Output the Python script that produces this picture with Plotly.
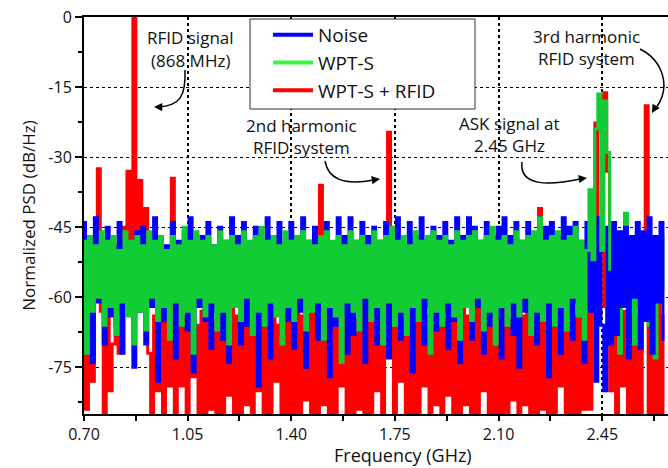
import numpy as np
import plotly.graph_objects as go

# ---------------- data ----------------
freq_start_ghz = 0.70
freq_step_ghz = 0.01
n_points = 197
freq_ghz = np.round(freq_start_ghz + freq_step_ghz * np.arange(n_points), 2)

noise_db = [
    -44, -68, -47, -74, -43, -61, -49, -70, -45, -64,   # 0.70
    -49, -66, -44, -72, -48, -60, -50, -75, -46, -63,   # 0.80
    -45, -70, -49, -62, -43, -78, -47, -65, -49, -61,   # 0.90
    -44, -73, -48, -60, -46, -67, -43, -76, -49, -62,   # 1.00
    -47, -65, -44, -71, -49, -63, -45, -69, -48, -74,   # 1.10
    -43, -61, -47, -70, -44, -66, -49, -62, -45, -79,   # 1.20
    -48, -64, -43, -73, -47, -61, -44, -68, -49, -65,   # 1.30
    -44, -71, -47, -63, -43, -75, -48, -60, -45, -69,   # 1.40
    -47, -62, -44, -77, -49, -66, -43, -64, -47, -72,   # 1.50
    -43, -68, -48, -61, -44, -74, -47, -63, -45, -70,   # 1.60
    -48, -65, -44, -73, -47, -62, -43, -69, -49, -61,   # 1.70
    -44, -76, -47, -64, -43, -70, -48, -62, -45, -67,   # 1.80
    -47, -63, -44, -71, -48, -65, -43, -74, -47, -60,   # 1.90
    -43, -69, -45, -62, -48, -72, -44, -66, -47, -64,   # 2.00
    -45, -73, -43, -61, -47, -68, -44, -75, -48, -63,   # 2.10
    -44, -65, -47, -70, -43, -62, -45, -77, -44, -66,   # 2.20
    -47, -72, -43, -64, -45, -69, -44, -61, -48, -74,   # 2.30
    -44, -63, -46, -78, -43, -66, -80, -45, -70, -44,   # 2.40
    -68, -46, -62, -45, -73, -47, -60, -44, -71, -46,   # 2.50
    -65, -43, -72, -47, -61, -44, -69,                  # 2.60
]

wpt_s_db = [
    -48, -72, -47, -63, -49, -60, -46, -66, -48, -62,   # 0.70
    -47, -68, -50, -61, -46, -64, -48, -70, -47, -63,   # 0.80
    -49, -67, -46, -60, -48, -65, -47, -62, -50, -69,   # 0.90
    -47, -61, -49, -66, -45, -63, -48, -72, -46, -60,   # 1.00
    -48, -64, -47, -61, -49, -67, -46, -63, -48, -70,   # 1.10
    -47, -62, -49, -65, -46, -60, -48, -68, -47, -63,   # 1.20
    -45, -66, -48, -61, -47, -64, -49, -70, -46, -62,   # 1.30
    -48, -65, -47, -60, -46, -67, -48, -63, -49, -61,   # 1.40
    -47, -69, -46, -62, -48, -64, -47, -74, -49, -61,   # 1.50
    -46, -63, -48, -67, -47, -60, -49, -65, -46, -62,   # 1.60
    -48, -70, -47, -61, -45, -66, -48, -63, -47, -68,   # 1.70
    -49, -62, -46, -65, -48, -60, -47, -72, -46, -63,   # 1.80
    -48, -66, -47, -61, -49, -64, -46, -69, -48, -62,   # 1.90
    -47, -65, -46, -60, -48, -67, -47, -63, -45, -70,   # 2.00
    -48, -62, -47, -66, -49, -61, -46, -64, -48, -60,   # 2.10
    -47, -68, -46, -63, -43, -65, -48, -61, -47, -66,   # 2.20
    -46, -62, -48, -67, -47, -60, -45, -64, -48, -69,   # 2.30
    -50, -37, -52, -24, -16.5, -50, -18, -29, -54, -68, # 2.40
    -58, -72, -50, -42, -64, -49, -70, -46, -62, -51,   # 2.50
    -48, -66, -50, -73, -52, -47, -58,                  # 2.60
]

wpt_s_rfid_db = [
    -62, -84, -66, -78, -60, -32.5, -63, -86, -64, -80,   # 0.70
    -70, -62, -72, -45, -60, -33, -50, 0, -50, -35,       # 0.80
    -58, -41, -72, -88, -64, -80, -60, -88, -65, -79,     # 0.90
    -34.5, -87, -61, -79, -64, -89, -60, -77, -66, -88,   # 1.00
    -63, -86, -59, -84, -65, -90, -61, -88, -62, -81,     # 1.10
    -60, -86, -64, -89, -58, -83, -63, -88, -61, -80,     # 1.20
    -65, -89, -60, -85, -62, -78, -66, -88, -59, -86,     # 1.30
    -63, -87, -61, -90, -64, -82, -60, -86, -62, -88,     # 1.40
    -36, -83, -63, -88, -59, -86, -64, -79, -61, -89,     # 1.50
    -62, -87, -65, -84, -60, -88, -63, -89, -58, -80,     # 1.60
    -64, -86, -61, -24.7, -63, -88, -60, -78, -65, -87,   # 1.70
    -61, -88, -63, -87, -59, -79, -64, -88, -62, -83,     # 1.80
    -60, -88, -65, -81, -61, -89, -63, -86, -60, -83,     # 1.90
    -64, -89, -62, -86, -58, -80, -63, -88, -61, -89,     # 2.00
    -62, -85, -60, -87, -65, -82, -61, -88, -64, -83,     # 2.10
    -59, -88, -63, -86, -41, -84, -62, -88, -60, -86,     # 2.20
    -63, -79, -61, -88, -60, -86, -64, -88, -62, -84,     # 2.30
    -61, -84, -60, -22.7, -64, -62, -16.2, -33, -80, -61, # 2.40
    -86, -60, -79, -63, -88, -61, -85, -64, -88, -60,     # 2.50
    -19, -87, -62, -88, -60, -86, -64,                    # 2.60
]

series_names = ["Noise", "WPT-S", "WPT-S + RFID"]
x_tick_vals = [0.70, 1.05, 1.40, 1.75, 2.10, 2.45]
x_tick_text = ["0.70", "1.05", "1.40", "1.75", "2.10", "2.45"]
x_minor_vals = [0.875, 1.225, 1.575, 1.925, 2.275, 2.625]
y_tick_vals = [0, -15, -30, -45, -60, -75]
y_tick_text = ["0", "-15", "-30", "-45", "-60", "-75"]
y_minor_vals = [-7.5, -22.5, -37.5, -52.5, -67.5, -82.5]

# ---------------- styling / layout ----------------
W, H = 668, 468
PL, PR, PT, PB = 84, 668, 17, 414      # plot area in pixels
X_RANGE = [0.70, 2.672]
Y_RANGE = [-85, 0]
FONT = "Open Sans"
TXT = "#111111"

BLUE = "#0000ff"
GREEN_LINE = "#12cc36"
GREEN_LEG = "#3cf53c"
RED = "#ff0000"
LW = 3
# above this frequency the WPT-S trace lies behind the noise trace
GREEN_SPLIT_GHZ = 2.48


def gx(px):
    return X_RANGE[0] + (px - PL) / (PR - PL) * (X_RANGE[1] - X_RANGE[0])


def gy(py):
    return Y_RANGE[1] - (py - PT) / (PB - PT) * (Y_RANGE[1] - Y_RANGE[0])


freq_arr = np.asarray(freq_ghz)
wpt_arr = np.asarray(wpt_s_db, dtype=float)
front = freq_arr <= GREEN_SPLIT_GHZ + 1e-9
back = freq_arr >= GREEN_SPLIT_GHZ - 1e-9

fig = go.Figure()


def step_line(x, y, color, name):
    return go.Scatter(x=x, y=y, mode="lines", line_shape="hvh",
                      line=dict(color=color, width=LW), showlegend=False,
                      name=name, hoverinfo="skip")


fig.add_trace(step_line(freq_arr, wpt_s_rfid_db, RED, series_names[2]))
fig.add_trace(step_line(freq_arr[back], wpt_arr[back], GREEN_LINE, series_names[1]))
fig.add_trace(step_line(freq_arr, noise_db, BLUE, series_names[0]))
fig.add_trace(step_line(freq_arr[front], wpt_arr[front], GREEN_LINE, series_names[1]))

# legend entries
for name, col in zip(series_names, [BLUE, GREEN_LEG, RED]):
    fig.add_trace(go.Scatter(x=[None], y=[None], mode="lines",
                             line=dict(color=col, width=4), name=name))

shapes = []
# legend frame
shapes.append(dict(type="rect", xref="x", yref="y",
                   x0=gx(250), x1=gx(475), y0=gy(19), y1=gy(109),
                   fillcolor="white", line=dict(color="#333333", width=1),
                   layer="above"))


def curve(points):
    (x0, y0), (c1x, c1y), (c2x, c2y), (x1, y1) = points
    return (f"M {gx(x0)},{gy(y0)} C {gx(c1x)},{gy(c1y)} "
            f"{gx(c2x)},{gy(c2y)} {gx(x1)},{gy(y1)}")


arrow_curves = [
    [(185, 70), (186, 96), (180, 106), (158, 107)],
    [(325, 161), (328, 178), (342, 186), (374, 180)],
    [(522, 162), (519, 186), (548, 186), (580, 179)],
    [(640, 49), (662, 60), (672, 86), (656, 108)],
]
for pts in arrow_curves:
    shapes.append(dict(type="path", xref="x", yref="y", path=curve(pts),
                       line=dict(color="black", width=1.5), layer="above"))

annotations = []
heads = [((154, 107), (6, 0)), ((380, 179), (-7, 1)),
         ((587, 178), (-8, 1)), ((652, 113), (4, -7))]
for (tx, ty), (ax, ay) in heads:
    annotations.append(dict(x=gx(tx), y=gy(ty), xref="x", yref="y",
                            ax=ax, ay=ay, axref="pixel", ayref="pixel",
                            text="", showarrow=True, arrowhead=2,
                            arrowsize=1.1, arrowwidth=1.5, arrowcolor="black"))

labels = [
    ("RFID signal", 190, 37), ("(868 MHz)", 190, 60),
    ("2nd harmonic", 301, 125), ("RFID system", 301, 147),
    ("ASK signal at", 509, 123), ("2.45 GHz", 509, 145),
    ("3rd harmonic", 586, 36), ("RFID system", 586, 58),
]
for txt, px, py in labels:
    annotations.append(dict(x=gx(px), y=gy(py), xref="x", yref="y",
                            text=txt, showarrow=False,
                            xanchor="center", yanchor="middle",
                            font=dict(family=FONT, size=17, color=TXT)))

# x axis title (centred where the reference puts it)
annotations.append(dict(x=(403 - PL) / (PR - PL), y=-(455 - PB) / (PB - PT),
                        xref="paper", yref="paper",
                        text="Frequency (GHz)", showarrow=False,
                        xanchor="center", yanchor="middle",
                        font=dict(family=FONT, size=18, color=TXT)))

fig.update_layout(
    width=W, height=H,
    margin=dict(l=PL, r=W - PR, t=PT, b=H - PB),
    paper_bgcolor="white", plot_bgcolor="white",
    font=dict(family=FONT, size=16, color=TXT),
    shapes=shapes, annotations=annotations,
    legend=dict(x=(268 - PL) / (PR - PL), y=1 + (PT - 16) / (PB - PT),
                xanchor="left", yanchor="top",
                bgcolor="rgba(0,0,0,0)", borderwidth=0,
                font=dict(family=FONT, size=19, color=TXT),
                itemwidth=40, tracegroupgap=0),
)

fig.update_xaxes(
    range=X_RANGE, tickvals=x_tick_vals, ticktext=x_tick_text,
    ticks="outside", ticklen=5, tickwidth=2, tickcolor="black",
    showline=True, linewidth=2, linecolor="black", mirror=True,
    showgrid=True, gridcolor="black", griddash="dot", gridwidth=2,
    zeroline=False,
    minor=dict(tickvals=x_minor_vals, ticks="outside", ticklen=5,
               tickwidth=2, tickcolor="black", showgrid=False),
    tickfont=dict(family=FONT, size=16, color=TXT),
)
fig.update_yaxes(
    range=Y_RANGE, tickvals=y_tick_vals, ticktext=y_tick_text,
    ticks="outside", ticklen=7, tickwidth=2, tickcolor="black",
    showline=True, linewidth=2, linecolor="black",
    showgrid=True, gridcolor="black", griddash="dot", gridwidth=1,
    zeroline=False,
    minor=dict(tickvals=y_minor_vals, ticks="outside", ticklen=4,
               tickwidth=2, tickcolor="black", showgrid=False),
    tickfont=dict(family=FONT, size=16, color=TXT),
    title=dict(text="Normalized PSD (dB/Hz)", standoff=8,
               font=dict(family=FONT, size=17, color=TXT)),
)

fig.write_html("out.html")
